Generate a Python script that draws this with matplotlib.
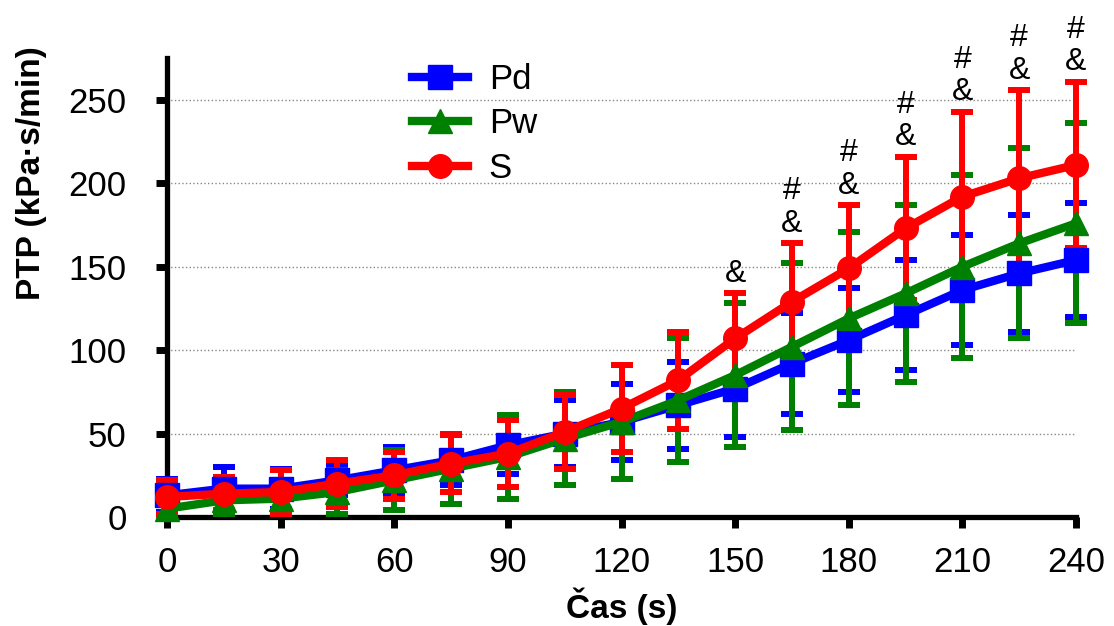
import matplotlib
matplotlib.use('Agg')
import matplotlib.pyplot as plt

cas = [0, 15, 30, 45, 60, 75, 90, 105, 120, 135, 150, 165, 180, 195, 210, 225, 240]

pd_mean = [13, 17, 17, 22, 28, 34, 43, 50, 57, 67, 77, 92, 106, 121, 136, 146, 154]
pd_sd = [10, 13, 12, 9, 14, 15, 17, 20, 23, 26, 29, 30, 31, 33, 33, 35, 34]

pw_mean = [5, 10, 11, 15, 22, 29, 36, 47, 57, 70, 85, 102, 119, 134, 150, 164, 176]
pw_sd = [5, 8, 9, 13, 18, 21, 25, 28, 34, 37, 43, 50, 52, 53, 55, 57, 60]

s_mean = [12, 14, 15, 20, 25, 32, 38, 51, 65, 82, 107, 129, 149, 173, 192, 203, 211]
s_sd = [10, 10, 13, 14, 14, 17, 20, 22, 26, 29, 27, 35, 38, 43, 51, 53, 50]

znacky = ['', '', '', '', '', '', '', '', '', '', '&', '#\n&', '#\n&', '#\n&', '#\n&', '#\n&', '#\n&']

plt.rcParams['font.family'] = ['Liberation Sans', 'DejaVu Sans']

fig = plt.figure(figsize=(11.14, 6.26), dpi=100)
ax = fig.add_axes([0.1499, 0.1741, 0.816, 0.733])

serie = [
    (pd_mean, pd_sd, '#0000ff', 's', 'Pd'),
    (pw_mean, pw_sd, '#008000', '^', 'Pw'),
    (s_mean, s_sd, '#ff0000', 'o', 'S'),
]

# error bars first, then lines over them
for m, sd, c, mk, lab in serie:
    ax.errorbar(cas, m, yerr=sd, fmt='none', ecolor=c, elinewidth=4.3,
                capsize=8, capthick=4.3, clip_on=False, zorder=3)

for m, sd, c, mk, lab in serie:
    ax.plot(cas, m, color=c, marker=mk, markersize=17, linewidth=6,
            label=lab, clip_on=False, zorder=4)

for t, m, sd, z in zip(cas, s_mean, s_sd, znacky):
    if z:
        ax.annotate(z, xy=(t, m + sd), xytext=(0, 3), textcoords='offset points',
                    ha='center', va='bottom', fontsize=23, linespacing=1.12)

ax.set_xlim(0, 240)
ax.set_ylim(0, 275)
ax.set_xticks(range(0, 241, 30))
ax.set_yticks(range(0, 251, 50))
ax.yaxis.grid(True, linestyle=':', color='#888888', linewidth=1)
ax.set_axisbelow(True)

ax.spines['top'].set_visible(False)
ax.spines['right'].set_visible(False)
ax.spines['left'].set_linewidth(3.8)
ax.spines['bottom'].set_linewidth(3.8)
ax.tick_params(axis='both', direction='out', length=8, width=5, labelsize=25)
ax.tick_params(axis='y', pad=21)
ax.tick_params(axis='x', pad=13)

ax.set_xlabel('Čas (s)', fontsize=24, fontweight='bold', labelpad=6)
ax.set_ylabel('PTP (kPa·s/min)', fontsize=24, fontweight='bold')
ax.yaxis.set_label_coords(-0.132, 0.75)

ax.legend(loc='upper left', bbox_to_anchor=(0.27, 0.99), frameon=False,
          fontsize=25, handlelength=1.6, handletextpad=0.6, labelspacing=0.33,
          borderpad=0, borderaxespad=0)

plt.savefig('out.png', dpi=100)
